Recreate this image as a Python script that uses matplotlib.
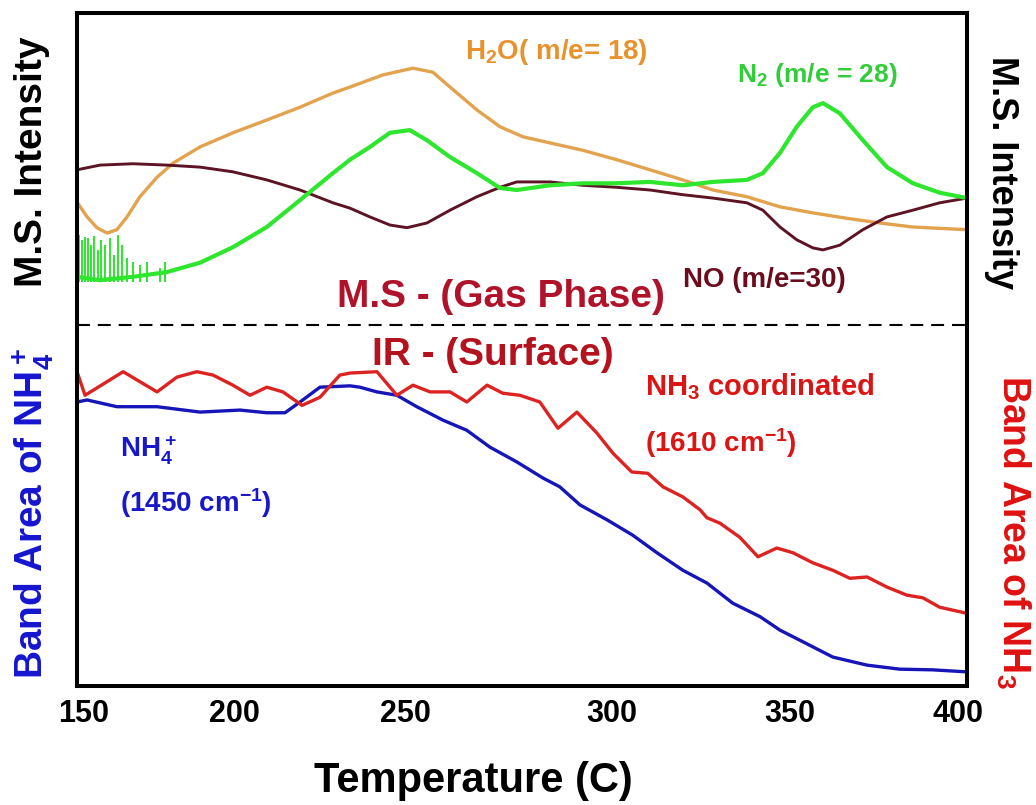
import numpy as np
import matplotlib
matplotlib.use("Agg")
import matplotlib.pyplot as plt

plt.rcParams['font.family'] = ['Liberation Sans', 'DejaVu Sans']
plt.rcParams['font.weight'] = 'bold'
plt.rcParams['mathtext.default'] = 'regular'

# Mass spec traces (arbitrary intensity, 0-100 axis, top half)
h2o_T = [148.0, 150.9, 153.7, 156.6, 159.4, 162.3, 166.0, 170.9, 175.5, 183.2, 192.6, 202.3,
         211.8, 221.2, 226.1, 235.5, 244.1, 249.8, 254.7, 262.4, 269.0, 275.6, 283.3, 292.7,
         302.4, 311.9, 321.3, 329.9, 339.6, 349.1, 358.5, 368.2, 377.7, 387.1, 402.6]
h2o_I = [71.9, 69.7, 68.1, 67.3, 67.8, 69.7, 72.7, 75.6, 77.7, 80.1, 82.2, 84.1,
         86.0, 88.1, 89.0, 90.8, 91.8, 91.2, 89.0, 85.6, 83.1, 81.6, 80.7, 79.6,
         78.2, 76.7, 75.2, 73.7, 72.7, 71.2, 70.3, 69.5, 68.8, 68.2, 67.8]

n2_T = [148.0, 154.6, 164.0, 173.7, 183.2, 192.6, 202.3, 211.8, 221.2, 226.1, 231.8, 237.5,
        243.2, 248.1, 254.7, 262.4, 269.0, 273.8, 283.3, 292.7, 302.4, 311.9, 321.3, 329.9,
        339.6, 344.2, 349.1, 353.9, 358.5, 361.4, 366.2, 372.8, 379.7, 387.1, 394.8, 402.6]
n2_I = [60.8, 60.3, 60.8, 61.5, 62.9, 65.2, 68.2, 72.2, 76.2, 78.2, 80.1, 82.2,
        82.6, 81.1, 78.6, 76.2, 74.0, 73.7, 74.4, 74.7, 74.7, 74.9, 74.4, 74.9,
        75.2, 76.2, 79.2, 83.1, 86.0, 86.6, 85.1, 81.1, 77.1, 74.7, 73.3, 72.5]

# noisy spikes on the N2 trace at low temperature
n2_spike_T = [148.6, 149.4, 150.3, 151.1, 152.0, 152.9, 154.0, 154.9, 156.0, 157.4,
              158.6, 159.7, 160.9, 162.3, 164.0, 166.0, 168.0, 171.7, 173.2]
n2_spike_top = [67.0, 66.3, 66.7, 66.6, 65.5, 66.9, 64.8, 66.3, 65.5, 66.6,
                64.0, 67.0, 65.5, 63.6, 63.0, 62.6, 63.0, 62.1, 63.0]

no_T = [148.0, 154.6, 164.0, 173.7, 183.2, 192.6, 202.3, 211.8, 221.2, 226.1, 231.8, 237.5,
        242.4, 248.1, 254.7, 262.4, 269.0, 273.8, 283.3, 292.7, 302.4, 311.9, 321.3, 329.9,
        339.6, 344.2, 349.1, 353.9, 358.5, 361.4, 366.2, 372.8, 379.7, 387.1, 394.8, 402.6]
no_I = [76.7, 77.4, 77.6, 77.4, 77.1, 76.4, 75.2, 73.7, 71.8, 71.0, 69.7, 68.5,
        68.1, 68.8, 70.7, 72.7, 74.1, 74.9, 74.9, 74.4, 74.1, 73.7, 73.0, 72.5,
        71.8, 70.7, 68.2, 66.3, 65.1, 64.8, 65.5, 67.8, 69.7, 70.7, 71.8, 72.5]

# IR band areas (bottom half)
nh3_T = [148.0, 150.3, 161.2, 170.9, 176.6, 182.3, 186.9, 192.6, 197.5, 202.3, 206.9, 212.4,
         217.5, 223.2, 226.1, 233.8, 239.5, 244.1, 249.0, 254.7, 259.5, 265.3, 269.8, 274.7,
         280.4, 285.6, 291.0, 296.7, 301.3, 306.7, 311.3, 315.6, 321.3, 326.2, 328.2, 331.9,
         337.6, 342.8, 348.2, 352.8, 358.5, 364.2, 369.1, 374.0, 379.7, 385.4, 390.0, 394.8, 402.6]
nh3_A = [46.7, 43.2, 46.7, 43.7, 45.9, 46.7, 46.2, 44.7, 43.2, 44.4, 43.7, 41.7,
         42.9, 46.2, 46.5, 46.7, 43.2, 44.7, 43.7, 43.7, 42.2, 44.7, 43.5, 43.2,
         42.2, 38.3, 40.7, 37.6, 34.6, 31.8, 31.6, 29.6, 28.1, 26.2, 25.0, 24.2,
         22.1, 19.2, 20.5, 19.8, 18.3, 17.2, 16.0, 16.2, 14.7, 13.5, 13.1, 11.7, 10.8]

nh4_T = [148.0, 150.9, 159.4, 170.9, 183.2, 194.6, 202.3, 207.5, 211.8, 217.5, 226.1, 228.9,
         233.8, 239.5, 245.2, 252.7, 259.5, 266.1, 273.8, 281.3, 286.1, 291.9, 299.6, 307.0,
         313.9, 321.3, 328.2, 335.6, 343.4, 349.1, 354.8, 364.2, 374.0, 383.4, 392.8, 402.6]
nh4_A = [42.2, 42.5, 41.5, 41.5, 40.7, 41.0, 40.6, 40.6, 42.2, 44.4, 44.6, 44.4,
         43.7, 43.2, 41.5, 39.5, 38.0, 35.5, 33.3, 30.9, 29.6, 26.9, 24.7, 22.4,
         19.8, 17.2, 15.3, 12.3, 10.3, 8.3, 6.8, 4.3, 3.1, 2.5, 2.4, 2.1]

tick_pos = [150, 193, 242, 301, 352, 400]
tick_labels = ['150', '200', '250', '300', '350', '400']
split_level = 53.6

W, H = 1036, 805
fig = plt.figure(figsize=(W / 100, H / 100), dpi=100)
ax = fig.add_axes([77 / W, 1 - 686 / H, 890 / W, 673 / H])

ax.plot(h2o_T, h2o_I, color='#E3A24E', lw=2.4)
ax.plot(no_T, no_I, color='#5C1424', lw=2.1)
ax.vlines(n2_spike_T, 60.0, n2_spike_top, color='#2EE62E', lw=1.4)
ax.plot(n2_T, n2_I, color='#2EE62E', lw=3.0)

ax.plot(nh4_T, nh4_A, color='#1515B8', lw=2.4)
ax.plot(nh3_T, nh3_A, color='#DD2222', lw=2.4)

ax.axhline(split_level, color='black', lw=1.5, dashes=(6.2, 3.8))

ax.set_xlim(148.0, 402.6)
ax.set_ylim(0, 100)
ax.set_yticks([])
ax.set_xticks(tick_pos)
ax.set_xticklabels(tick_labels, fontsize=22, fontweight='bold')
ax.tick_params(axis='x', length=0, pad=9)
for sp in ax.spines.values():
    sp.set_linewidth(2.9)


def ftext(x, y, s, **kw):
    fig.text(x / W, 1 - y / H, s, fontweight='bold', **kw)


# in-plot annotations
ftext(465, 59, 'H$_2$O( m/e= 18)', color='#E8922E', fontsize=20, va='baseline')
ftext(737, 82, 'N$_2$ (m/e = 28)', color='#33CC3A', fontsize=19, va='baseline')
ftext(683, 287, 'NO (m/e=30)', color='#6A0C1C', fontsize=20, va='baseline')
ftext(337, 307, 'M.S - (Gas Phase)', color='#B0122A', fontsize=28, va='baseline')
ftext(372, 365, 'IR - (Surface)', color='#B5121E', fontsize=28, va='baseline')
ftext(645, 395, 'NH$_3$ coordinated', color='#DD1414', fontsize=21, va='baseline')
ftext(645, 452, '(1610 cm$^{-1}$)', color='#DD1414', fontsize=20, va='baseline')
ftext(120, 457, 'NH$_4^+$', color='#1818C8', fontsize=20, va='baseline')
ftext(120, 512, '(1450 cm$^{-1}$)', color='#1818C8', fontsize=20, va='baseline')

# axis titles
ftext(32, 162, 'M.S. Intensity', color='black', fontsize=28, rotation=90, ha='center', va='center')
ftext(33, 513, 'Band Area of NH$_4^+$', color='#1515D0', fontsize=28, rotation=90, ha='center', va='center')
ftext(1002, 173, 'M.S. Intensity', color='black', fontsize=26, rotation=270, ha='center', va='center')
ftext(1013, 532, 'Band Area of NH$_3$', color='#E01010', fontsize=27, rotation=270, ha='center', va='center')
ftext(473, 781, 'Temperature (C)', color='black', fontsize=30, ha='center', va='center')

fig.savefig('out.png', dpi=100)
